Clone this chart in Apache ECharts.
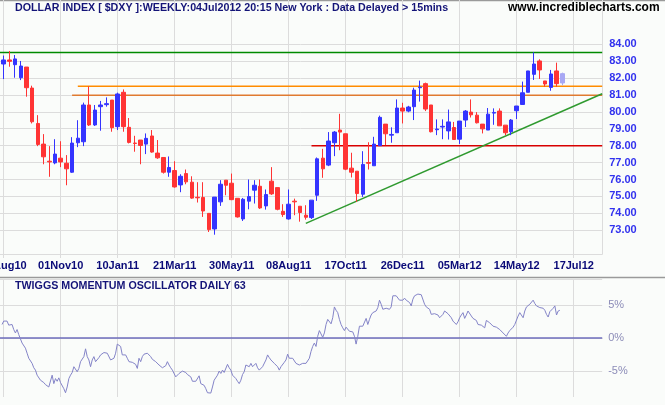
<!DOCTYPE html>
<html><head><meta charset="utf-8">
<script src="https://cdn.jsdelivr.net/npm/echarts@6/dist/echarts.min.js"></script>
<style>html,body{margin:0;padding:0;background:#fafcfa}#c{width:665px;height:405px}</style>
</head><body><div id="c"></div>
<script>
// ---------- data ----------
const firstWeek = '2010-08-23';
const tickLabels = ['23Aug10','01Nov10','10Jan11','21Mar11','30May11','08Aug11','17Oct11','26Dec11','05Mar12','14May12','17Jul12'];
const priceTicks = [73,74,75,76,77,78,79,80,81,82,83,84];
const oscTicks = [-5,0,5];

const opens = [82.82,83.06,82.78,82.01,82.64,81.40,79.31,78.09,77.08,76.98,
77.26,76.96,76.43,78.17,78.23,80.40,79.22,80.30,80.42,80.69,
79.12,81.15,79.08,78.15,78.33,78.09,78.57,77.56,77.30,76.43,
76.53,75.68,76.35,75.84,74.95,74.94,74.00,73.08,74.68,75.96,
75.78,74.89,73.67,74.72,75.37,75.60,74.44,75.90,75.52,74.12,
73.67,74.72,74.42,73.89,73.75,75.07,77.26,76.85,78.17,78.92,
78.70,76.67,76.49,75.13,77.00,76.81,78.00,79.27,78.62,78.76,
80.22,80.04,80.30,81.42,81.66,80.40,78.94,79.10,78.87,79.07,
78.38,79.51,79.98,79.80,79.27,78.92,79.92,80.04,79.21,78.82,
80.06,80.43,81.15,82.21,83.00,81.82,81.44,82.41,81.70];
const closes = [83.06,82.98,83.12,82.70,81.42,79.41,78.07,77.34,77.04,77.50,
77.04,76.63,78.15,78.44,80.40,79.22,80.10,80.40,80.48,79.06,
81.05,79.12,78.19,78.13,78.01,78.43,77.62,77.28,76.43,76.71,
75.56,76.19,75.86,74.90,74.92,74.14,73.04,74.96,75.72,75.66,
74.81,73.79,74.83,74.99,75.66,74.32,75.11,75.15,74.24,73.93,
74.54,74.68,74.05,73.77,74.78,77.22,76.63,78.27,78.80,78.80,
76.61,76.43,75.17,76.89,76.96,78.09,79.67,78.70,78.66,80.22,
80.04,80.28,81.28,81.46,80.16,78.82,78.98,79.14,79.40,78.36,
79.45,80.04,79.82,79.35,78.99,79.86,79.96,79.17,78.76,79.51,
80.34,81.12,82.41,82.82,82.47,81.64,82.23,81.66,82.25];
const lows = [81.93,82.66,82.01,81.87,80.89,79.31,77.97,76.90,76.16,76.90,
76.73,75.66,76.39,77.91,77.97,79.16,79.16,78.88,80.30,78.82,
78.92,78.82,78.13,77.64,76.90,77.50,77.58,77.22,76.35,76.16,
75.52,75.25,75.72,74.86,74.64,73.79,72.90,72.74,74.44,75.07,
74.78,73.75,73.55,74.24,74.58,74.26,74.22,75.09,74.18,73.79,
73.63,73.89,73.51,73.63,73.67,74.74,76.10,76.79,77.38,77.73,
76.55,76.12,74.68,74.97,76.59,76.81,78.00,78.03,78.17,78.76,
79.31,79.97,79.51,80.60,80.04,78.78,78.62,78.38,78.36,78.36,
78.10,79.10,79.66,79.31,78.72,78.92,79.23,79.17,78.62,78.62,
79.57,80.43,81.15,81.88,81.94,81.48,81.24,81.48,81.56];
const highs = [83.32,83.59,83.35,83.00,82.64,81.54,79.80,78.68,77.97,78.38,
78.26,77.44,78.50,79.50,80.54,81.50,80.40,80.64,80.85,80.69,
81.13,81.32,79.63,78.58,78.33,78.72,78.92,78.33,77.30,77.36,
77.08,76.31,76.59,76.19,75.84,75.84,74.00,74.96,75.96,75.96,
76.35,74.89,74.91,76.00,75.96,76.00,75.41,76.73,75.52,74.54,
75.41,74.87,74.42,74.48,74.78,77.30,77.81,78.80,78.86,79.88,
78.70,77.58,76.49,77.67,78.20,78.52,79.77,79.27,79.08,80.73,
80.53,80.35,81.42,81.84,81.72,80.40,79.55,79.55,80.13,79.40,
79.45,80.10,80.73,79.98,79.27,80.22,80.20,80.20,79.21,79.57,
80.34,81.78,82.41,83.51,83.10,81.82,82.47,82.90,82.31];

// support / resistance annotations (value, starting week index)
const greenLevel = 83.5;
const orangeUpper = 81.5, orangeUpperStart = 13;
const orangeLower = 80.97, orangeLowerStart = 12;
const redLevel = 78.0, redStart = 54;
const trendFrom = [53, 73.41], trendTo = [105, 81.06];
const extraWeeks = 7; // empty weeks after the last candle

// Twiggs momentum oscillator (%), sampled along the weeks
const oscStartWeek = -0.29, oscStepWeek = 0.293;
const oscValues = [
2.06,2.58,2.58,2.58,1.96,1.80,2.06,1.29,0.77,1.29,0.52,0.62,-0.77,-1.03,-1.55,-2.32,-3.09,-3.35,-3.87,-4.54,
-4.90,-5.67,-5.41,-6.44,-6.70,-6.80,-7.11,-7.32,-7.47,-7.22,-5.67,-6.96,-6.19,-6.60,-6.08,-6.80,-6.96,-7.73,-8.35,-7.47,
-6.19,-5.67,-5.26,-4.38,-4.12,-5.15,-4.64,-3.61,-3.61,-2.84,-1.65,-2.84,-3.35,-4.38,-3.35,-2.84,-3.61,-3.87,-2.99,-2.58,
-2.73,-2.22,-2.32,-2.32,-2.47,-3.35,-3.61,-3.09,-2.32,-0.93,-0.77,-1.29,-2.58,-2.84,-2.58,-3.09,-3.61,-3.61,-3.71,-3.87,
-4.02,-4.64,-3.09,-3.61,-2.84,-2.47,-2.22,-2.32,-2.58,-2.84,-3.25,-3.09,-3.61,-3.76,-4.12,-4.38,-4.54,-4.74,-4.23,-3.61,
-4.12,-4.54,-4.90,-5.15,-5.93,-5.67,-5.41,-5.15,-5.05,-5.15,-5.26,-5.57,-5.67,-5.93,-6.60,-6.70,-6.60,-6.80,-5.77,-6.96,
-6.96,-7.22,-7.73,-8.35,-8.51,-8.40,-7.47,-6.44,-6.19,-5.67,-5.05,-5.41,-4.90,-5.26,-5.41,-4.02,-4.54,-4.90,-5.67,-5.41,
-6.19,-6.60,-6.96,-6.44,-5.57,-5.15,-4.12,-4.38,-4.38,-3.87,-4.38,-4.12,-3.87,-4.54,-4.90,-5.05,-4.38,-4.12,-3.35,-2.58,
-2.99,-3.35,-3.09,-3.87,-4.12,-4.38,-4.90,-4.38,-4.12,-3.71,-3.35,-2.47,-3.09,-2.84,-3.09,-3.09,-3.87,-3.61,-4.12,-3.87,
-3.87,-3.61,-3.87,-3.61,-3.09,-2.06,-1.29,-0.77,-1.29,0.26,1.13,1.03,0.10,0.77,2.06,2.84,2.58,2.16,3.09,4.74,
4.23,3.87,2.84,2.06,1.55,1.13,1.65,1.55,1.03,0.77,0.93,0.26,-0.93,0.26,1.80,1.55,1.80,1.55,2.99,2.06,
2.84,3.51,3.87,3.71,4.12,4.64,5.77,5.15,4.38,4.64,4.54,4.74,4.38,4.74,6.44,6.70,6.44,6.19,5.77,5.93,
5.77,6.08,5.77,5.93,5.41,4.90,5.93,6.44,6.60,6.70,6.44,6.60,6.70,5.15,4.74,4.64,4.38,3.61,3.87,3.71,
3.61,3.51,3.09,3.20,3.61,4.12,4.23,3.71,3.51,3.09,2.58,2.84,2.06,2.47,3.09,3.51,3.87,2.99,3.51,4.12,
4.38,3.35,2.99,3.09,2.68,2.06,1.96,1.96,1.80,1.55,2.68,2.58,2.32,2.16,1.80,1.65,1.65,1.55,1.29,1.03,
0.77,0.52,0.26,0.77,1.13,1.29,1.65,2.06,2.16,3.35,3.87,3.61,3.09,4.12,4.74,4.90,5.15,5.26,5.77,5.26,
4.90,5.15,4.64,4.38,4.54,4.23,3.61,3.20,4.02,4.23,4.54,4.90,3.51,4.12,4.23];

// ---------- build ----------
const MON = ['Jan','Feb','Mar','Apr','May','Jun','Jul','Aug','Sep','Oct','Nov','Dec'];
const nWeeks = opens.length + extraWeeks;      // weeks from first candle
const cats = [];
const t0 = new Date(firstWeek + 'T00:00:00Z').getTime();
for (let i = -1; i < nWeeks; i++) {
  const d = new Date(t0 + i * 7 * 86400000);
  cats.push(String(d.getUTCDate()).padStart(2,'0') + MON[d.getUTCMonth()] + String(d.getUTCFullYear()).slice(2));
}
const idx = k => k + 1; // week index -> category index (slot 0 is a lead-in week)
const candleData = cats.map((c, i) => {
  const k = i - 1;
  if (k < 0 || k >= opens.length) return '-';
  const item = { value: [opens[k], closes[k], lows[k], highs[k]] };
  if (k === opens.length - 1) item.itemStyle = { color: '#a8a8f4', borderColor: '#a8a8f4', color0: '#a8a8f4', borderColor0: '#a8a8f4' };
  return item;
});
const tickFn = (i) => i >= 1 && (i - 1) % 10 === 0;
const lastIdx = cats.length - 1;

const FONT = '"Liberation Sans", Arial, sans-serif';
const GRID_C = '#dcdcdc';

const chart = echarts.init(document.getElementById('c'), null, { renderer: 'canvas' });
chart.setOption({
  animation: false,
  backgroundColor: '#fafcfa',
  title: [
    { text: 'DOLLAR INDEX [ $DXY ]:WEEKLY:04Jul2012 20:15 New York : Data Delayed > 15mins', left: 15, top: 3, padding: 0,
      textStyle: { fontFamily: FONT, fontSize: 10.7, fontWeight: 'bold', color: '#141478' } },
    { text: 'www.incrediblecharts.com', left: 508, top: 2, padding: 0,
      textStyle: { fontFamily: FONT, fontSize: 12, fontWeight: 'bold', color: '#000000' } },
    { text: 'TWIGGS MOMENTUM OSCILLATOR DAILY 63', left: 15, top: 281, padding: 0,
      textStyle: { fontFamily: FONT, fontSize: 10.7, fontWeight: 'bold', color: '#141478' } }
  ],
  grid: [
    { left: -2, top: 0, width: 604.2, height: 254, containLabel: false, outerBoundsMode: 'none' },
    { left: -2, top: 279, width: 604.2, height: 118, containLabel: false, outerBoundsMode: 'none' }
  ],
  xAxis: [
    { type: 'category', gridIndex: 0, data: cats, boundaryGap: false,
      axisLine: { show: true, lineStyle: { color: GRID_C } },
      axisTick: { show: true, interval: tickFn, length: 4, lineStyle: { color: GRID_C } },
      splitLine: { show: true, interval: tickFn, lineStyle: { color: GRID_C } },
      axisLabel: { interval: tickFn, margin: 6, fontFamily: FONT, fontSize: 11, fontWeight: 'bold', color: '#0a0a78',
        formatter: (v, i) => tickFn(i) ? (tickLabels[(i - 1) / 10] || '') : '' } },
    { type: 'category', gridIndex: 1, data: cats, boundaryGap: false,
      axisLine: { show: true, lineStyle: { color: GRID_C } },
      axisTick: { show: true, interval: tickFn, length: 5, lineStyle: { color: GRID_C } },
      splitLine: { show: true, interval: tickFn, lineStyle: { color: GRID_C } },
      axisLabel: { show: false } },
    { type: 'value', gridIndex: 1, min: 0, max: lastIdx, show: false, splitLine: { show: false } }
  ],
  yAxis: [
    { type: 'value', gridIndex: 0, position: 'right', min: 71.6, max: 86.6, interval: 0.1,
      splitLine: { show: false }, axisTick: { show: false },
      axisLine: { show: true, lineStyle: { color: GRID_C } },
      axisLabel: { margin: 7, fontFamily: FONT, fontSize: 11, fontWeight: 'bold', color: '#3232ee',
        formatter: v => { const r = Math.round(v); return (Math.abs(v - r) < 1e-6 && priceTicks.includes(r)) ? r.toFixed(2) : ''; } } },
    { type: 'value', gridIndex: 1, position: 'right', min: -9, max: 9, interval: 1,
      splitLine: { show: false }, axisTick: { show: false },
      axisLine: { show: true, lineStyle: { color: GRID_C } },
      axisLabel: { margin: 6, fontFamily: FONT, fontSize: 11, color: '#8c8cb8',
        formatter: v => { const r = Math.round(v); return (Math.abs(v - r) < 1e-6 && oscTicks.includes(r)) ? r + '%' : ''; } } }
  ],
  series: [
    { type: 'line', xAxisIndex: 0, yAxisIndex: 0, data: [], silent: true, z: 1,
      markLine: { silent: true, symbol: 'none', z: 1, label: { show: false },
        lineStyle: { color: GRID_C, width: 1, type: 'solid' },
        data: priceTicks.map(v => ({ yAxis: v })) } },
    { type: 'line', xAxisIndex: 0, yAxisIndex: 0, silent: true, symbol: 'none', z: 2,
      lineStyle: { color: '#008a00', width: 1.5 }, data: [[0, greenLevel], [lastIdx, greenLevel]] },
    { type: 'line', xAxisIndex: 0, yAxisIndex: 0, silent: true, symbol: 'none', z: 2,
      lineStyle: { color: '#ff8c00', width: 1.5 }, data: [[idx(orangeUpperStart), orangeUpper], [lastIdx, orangeUpper]] },
    { type: 'line', xAxisIndex: 0, yAxisIndex: 0, silent: true, symbol: 'none', z: 2,
      lineStyle: { color: '#e07a30', width: 1.5 }, data: [[idx(orangeLowerStart), orangeLower], [lastIdx, orangeLower]] },
    { type: 'line', xAxisIndex: 0, yAxisIndex: 0, silent: true, symbol: 'none', z: 2,
      lineStyle: { color: '#d80000', width: 1.5 }, data: [[idx(redStart), redLevel], [lastIdx, redLevel]] },
    { type: 'line', xAxisIndex: 0, yAxisIndex: 0, silent: true, symbol: 'none', z: 2,
      lineStyle: { color: '#2f9a2f', width: 1.5 }, data: [[idx(trendFrom[0]), trendFrom[1]], [idx(trendTo[0]), trendTo[1]]] },
    { type: 'candlestick', xAxisIndex: 0, yAxisIndex: 0, data: candleData, z: 3, barWidth: 4,
      itemStyle: { color: '#3434ff', color0: '#ff3434', borderColor: '#3434ff', borderColor0: '#ff3434', borderWidth: 1 } },
    { type: 'line', xAxisIndex: 2, yAxisIndex: 1, symbol: 'none', silent: true, z: 3,
      lineStyle: { color: '#8484c8', width: 1 },
      data: oscValues.map((v, j) => [idx(oscStartWeek + j * oscStepWeek), v]),
      markLine: { silent: true, symbol: 'none', z: 1, label: { show: false },
        data: [
          { yAxis: 9, lineStyle: { color: GRID_C, width: 1, type: 'solid' } },
          { yAxis: 5, lineStyle: { color: GRID_C, width: 1, type: 'solid' } },
          { yAxis: -5, lineStyle: { color: GRID_C, width: 1, type: 'solid' } },
          { yAxis: 0, lineStyle: { color: '#6e6ebc', width: 1.5, type: 'solid' } }
        ] } }
  ],
  graphic: [
    { type: 'line', silent: true, shape: { x1: 0, y1: 0.5, x2: 665, y2: 0.5 }, style: { stroke: '#9a9a9a', lineWidth: 1.5 } },
    { type: 'line', silent: true, shape: { x1: 0, y1: 277.5, x2: 665, y2: 277.5 }, style: { stroke: '#9a9a9a', lineWidth: 1.5 } }
  ]
});
</script>
</body></html>
